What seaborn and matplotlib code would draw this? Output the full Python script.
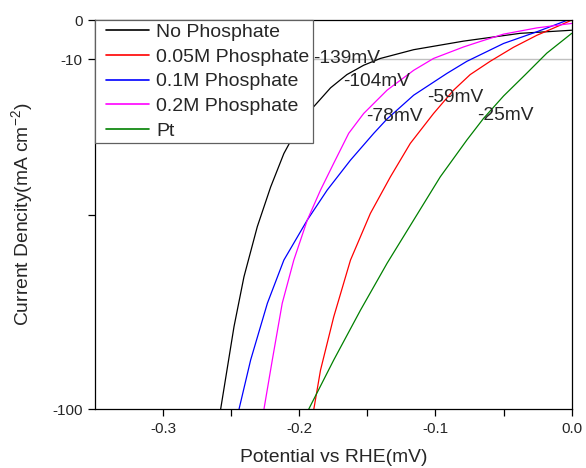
import numpy as np
import pandas as pd
import matplotlib
matplotlib.use("Agg")
import matplotlib.pyplot as plt
from matplotlib.legend_handler import HandlerLine2D
import seaborn as sns

# Curvas de polarizacion (potencial en V vs RHE, densidad de corriente en mA cm-2)
no_phos_x = [-0.2577, -0.2479, -0.2406, -0.2308, -0.2210, -0.2113, -0.2051, -0.1895,
             -0.177, -0.165, -0.1527, -0.1404, -0.116, -0.0794, -0.0379, 0.0]
no_phos_y = [-100, -78.8, -66.0, -53.1, -42.9, -34.3, -30.3, -22.3,
             -17.4, -14.0, -11.6, -9.85, -7.6, -5.4, -3.4, -2.6]

phos005_x = [-0.1893, -0.1844, -0.1747, -0.1624, -0.1478, -0.1331, -0.1185, -0.1014,
             -0.0867, -0.0745, -0.0599, -0.0428, -0.0256, -0.011, 0.0]
phos005_y = [-100, -90.0, -76.3, -61.7, -49.7, -40.3, -31.7, -24.0,
             -18.0, -14.0, -10.6, -7.0, -3.9, -1.7, 0.0]

phos01_x = [-0.2442, -0.2357, -0.2234, -0.2113, -0.1941, -0.1795, -0.1624, -0.1453,
            -0.1355, -0.116, -0.0916, -0.077, -0.050, -0.0256, -0.003]
phos01_y = [-100, -87.4, -72.8, -61.7, -51.4, -43.7, -36.0, -29.1,
            -25.4, -19.3, -13.7, -10.6, -6.0, -3.0, 0.0]

phos02_x = [-0.2259, -0.2198, -0.2125, -0.2040, -0.1941, -0.1844, -0.1747, -0.1637,
            -0.1527, -0.1355, -0.116, -0.1014, -0.0794, -0.0672, -0.050, -0.0256, 0.0]
phos02_y = [-100, -87.4, -72.8, -61.7, -51.4, -43.7, -36.8, -29.1,
            -24.0, -18.0, -12.9, -9.85, -6.9, -5.5, -3.6, -2.0, -0.85]

pt_x = [-0.1930, -0.1747, -0.1551, -0.1355, -0.1160, -0.0965, -0.0769, -0.0648,
        -0.050, -0.034, -0.0183, 0.0]
pt_y = [-100, -87.4, -74.6, -62.5, -51.4, -40.3, -30.8, -25.3,
        -19.5, -14.0, -8.5, -3.4]

series_names = ["No Phosphate", "0.05M Phosphate", "0.1M Phosphate",
                "0.2M Phosphate", "Pt"]
series_x = [no_phos_x, phos005_x, phos01_x, phos02_x, pt_x]
series_y = [no_phos_y, phos005_y, phos01_y, phos02_y, pt_y]
colores = ["black", "#ff0000", "#0000ff", "#ff00ff", "#008000"]

# Sobrepotenciales a -10 mA cm-2
etiquetas = ["-139mV", "-104mV", "-78mV", "-59mV", "-25mV"]
etiq_x = [-0.1895, -0.1675, -0.1507, -0.106, -0.0694]
etiq_y = [-9.8, -15.9, -24.9, -19.8, -24.4]

xticks = [-0.3, -0.2, -0.1, 0.0]
xtick_labels = ["-0.3", "-0.2", "-0.1", "0.0"]
yticks = [0, -10, -50, -100]
ytick_labels = ["0", "-10", "", "-100"]

frames = []
for name, xs, ys in zip(series_names, series_x, series_y):
    frames.append(pd.DataFrame({"Potential": xs, "Current": ys, "Muestra": name}))
df = pd.concat(frames, ignore_index=True)

sns.set_style("ticks")
plt.rcParams["font.family"] = ["Liberation Sans", "DejaVu Sans"]
plt.rcParams["mathtext.fontset"] = "custom"
plt.rcParams["mathtext.rm"] = "Liberation Sans"
plt.rcParams["mathtext.default"] = "regular"

fig = plt.figure(figsize=(5.86, 4.68), dpi=100)
ax = fig.add_axes([0.162, 0.126, 0.9756 - 0.162, 0.957 - 0.126])

ax.axhline(-10, color="#c0c0c0", lw=1.0, zorder=1)

sns.lineplot(data=df, x="Potential", y="Current", hue="Muestra",
             hue_order=series_names, palette=colores, sort=False,
             estimator=None, lw=0.9, ax=ax, zorder=2)

for txt, tx, ty in zip(etiquetas, etiq_x, etiq_y):
    ax.text(tx, ty, txt, fontsize=13.8, ha="left", va="center", zorder=3)

ax.set_xlim(-0.35, 0.0)
ax.set_ylim(-100, 0)
ax.set_xticks(xticks)
ax.set_xticklabels(xtick_labels)
ax.set_xticks([-0.25, -0.15, -0.05], minor=True)
ax.set_yticks(yticks)
ax.set_yticklabels(ytick_labels)
ax.tick_params(axis="both", which="both", direction="out", length=5,
               width=0.9, labelsize=11, pad=4, color="black")

for sp in ax.spines.values():
    sp.set_visible(True)
    sp.set_color("black")
    sp.set_linewidth(0.9)

ax.set_xlabel("Potential vs RHE(mV)", fontsize=13.9, labelpad=10)
ax.set_ylabel("Current Dencity(mA cm$^{-2}$)", fontsize=13.9, labelpad=12)

leg = ax.legend(loc="upper left", borderaxespad=0, fontsize=14,
                frameon=True, fancybox=False, framealpha=1,
                edgecolor="#606060", handlelength=2.6, handletextpad=0.36,
                labelspacing=0.36, borderpad=0.18,
                handler_map={plt.Line2D: HandlerLine2D(xpad=0.4)})
leg.get_frame().set_linewidth(0.9)
for h in leg.get_lines():
    h.set_linewidth(1.2)

fig.savefig("out.png", dpi=100)
